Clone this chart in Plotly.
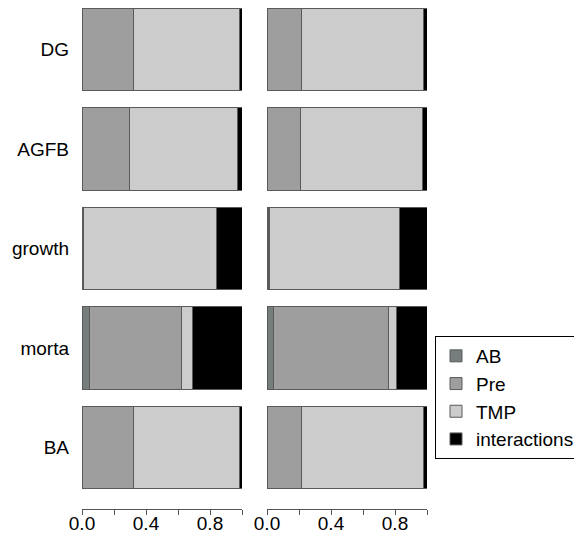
import plotly.graph_objects as go

categories = ["BA", "morta", "growth", "AGFB", "DG"]
components = ["AB", "Pre", "TMP", "interactions"]

# left panel
ab_left = [0.003, 0.044, 0.010, 0.003, 0.003]
pre_left = [0.316, 0.577, 0.002, 0.295, 0.316]
tmp_left = [0.667, 0.069, 0.828, 0.671, 0.667]
int_left = [0.014, 0.310, 0.160, 0.031, 0.014]

# right panel
ab_right = [0.003, 0.042, 0.012, 0.003, 0.003]
pre_right = [0.212, 0.720, 0.002, 0.207, 0.212]
tmp_right = [0.762, 0.048, 0.816, 0.760, 0.762]
int_right = [0.023, 0.190, 0.170, 0.030, 0.023]

tick_vals = [0.0, 0.2, 0.4, 0.6, 0.8, 1.0]
tick_text = ["0.0", "", "0.4", "", "0.8", ""]

colors = {"AB": "#757d7d", "Pre": "#9e9e9e", "TMP": "#cccccc", "interactions": "#000000"}

fig = go.Figure()
left = {"AB": ab_left, "Pre": pre_left, "TMP": tmp_left, "interactions": int_left}
right = {"AB": ab_right, "Pre": pre_right, "TMP": tmp_right, "interactions": int_right}

for panel, data, xa, ya, show in [(0, left, "x", "y", True), (1, right, "x2", "y2", False)]:
    for comp in components:
        fig.add_trace(go.Bar(
            x=data[comp], y=categories, orientation="h", name=comp,
            marker=dict(color=colors[comp], line=dict(color="#5a5a5a", width=1)),
            width=0.83, xaxis=xa, yaxis=ya, showlegend=show, legendgroup=comp,
            hoverinfo="x+y+name",
        ))

axis_common = dict(range=[0, 1], tickvals=tick_vals, ticktext=tick_text, ticks="outside",
                   ticklen=5, tickcolor="#555", showline=True, linecolor="#555", linewidth=1,
                   showgrid=False, zeroline=False, tickfont=dict(size=19, color="#000"),
                   ticklabelstandoff=-8, fixedrange=True)

yrange = [-0.618, 4.417]

fig.update_layout(
    width=574, height=530,
    margin=dict(l=74, r=155, t=0, b=29, autoexpand=False),
    barmode="stack",
    plot_bgcolor="white", paper_bgcolor="white",
    font=dict(family="Liberation Sans, Arial, sans-serif", size=19, color="#000"),
    xaxis=dict(domain=[0, 160 / 345], anchor="y", **axis_common),
    xaxis2=dict(domain=[185 / 345, 1], anchor="y2", **axis_common),
    yaxis=dict(range=yrange, showgrid=False, zeroline=False, showline=False,
               ticks="", ticklabelstandoff=12, tickfont=dict(size=19), fixedrange=True,
               categoryorder="array", categoryarray=categories),
    yaxis2=dict(range=yrange, showgrid=False, zeroline=False, showline=False,
                ticks="", showticklabels=False, matches="y", anchor="x2",
                categoryorder="array", categoryarray=categories),
    legend=dict(x=(427 - 74) / 345, y=1 - 328 / 501, xanchor="left", yanchor="top",
                bordercolor="#000", borderwidth=1, font=dict(size=19), traceorder="normal",
                bgcolor="white", tracegroupgap=0),
    bargap=0.17,
)

fig.write_html("out.html")
